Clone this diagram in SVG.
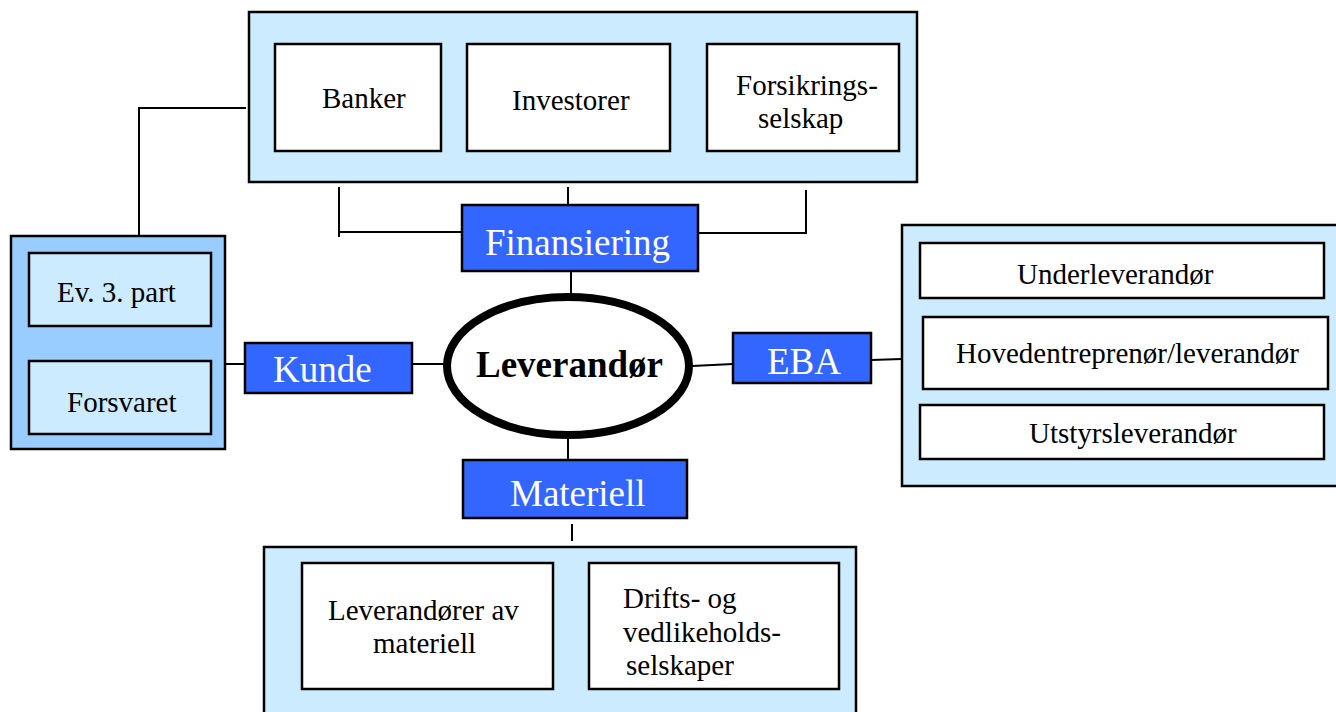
<svg xmlns="http://www.w3.org/2000/svg" width="1336" height="712" viewBox="0 0 1336 712">
<style>
  .cont { fill: #CCEBFF; stroke: #000; stroke-width: 2.5; }
  .contDark { fill: #99CCFF; stroke: #000; stroke-width: 2.5; }
  .box { fill: #FFFFFF; stroke: #000; stroke-width: 2.5; }
  .lbox { fill: #CCEBFF; stroke: #000; stroke-width: 2.5; }
  .blue { fill: #3366FF; stroke: #000; stroke-width: 2.5; }
  .t { font-family: "Liberation Serif", "Times New Roman", serif; font-size: 29px; fill: #000; }
  .w { font-family: "Liberation Serif", "Times New Roman", serif; font-size: 37px; fill: #FFFFFF; }
  .b { font-family: "Liberation Serif", "Times New Roman", serif; font-size: 37px; font-weight: bold; fill: #000; }
  .c { fill: none; stroke: #000; stroke-width: 2; }
</style>
<rect width="1336" height="712" fill="#FFFFFF"/>
<g id="connectors">
  <polyline class="c" points="139,236 139,108 246,108"/>
  <polyline class="c" points="339,237 339,187"/>
  <line class="c" x1="339" y1="232" x2="462" y2="232"/>
  <line class="c" x1="568" y1="187" x2="568" y2="205"/>
  <line class="c" x1="698" y1="233" x2="807" y2="233"/>
  <line class="c" x1="806" y1="190" x2="806" y2="233"/>
  <line class="c" x1="571" y1="270" x2="571" y2="298"/>
  <line class="c" x1="225" y1="364" x2="245" y2="364"/>
  <line class="c" x1="412" y1="364" x2="444" y2="364"/>
  <line class="c" x1="692" y1="366" x2="733" y2="364"/>
  <line class="c" x1="871" y1="360" x2="902" y2="359"/>
  <line class="c" x1="568" y1="437" x2="568" y2="460"/>
  <line class="c" x1="572" y1="524" x2="572" y2="541"/>
</g>
<g id="finans-group">
  <rect class="cont" x="249" y="12" width="668" height="170"/>
</g>
<g id="banker">
  <rect class="box" x="275" y="44" width="166" height="107"/>
  <text class="t" x="322" y="108">Banker</text>
</g>
<g id="investorer">
  <rect class="box" x="467" y="44" width="203" height="107"/>
  <text class="t" x="512" y="110">Investorer</text>
</g>
<g id="forsikring">
  <rect class="box" x="707" y="44" width="192" height="107"/>
  <text class="t" x="736" y="95">Forsikrings-</text>
  <text class="t" x="758" y="128">selskap</text>
</g>
<g id="kunde-group">
  <rect class="contDark" x="11" y="236" width="214" height="213"/>
</g>
<g id="ev3part">
  <rect class="lbox" x="29" y="253" width="182" height="73"/>
  <text class="t" x="57" y="302">Ev. 3. part</text>
</g>
<g id="forsvaret">
  <rect class="lbox" x="29" y="361" width="182" height="73"/>
  <text class="t" x="67" y="412">Forsvaret</text>
</g>
<g id="kunde">
  <rect class="blue" x="245" y="343" width="167" height="50"/>
  <text class="w" x="273" y="382">Kunde</text>
</g>
<g id="finansiering">
  <rect class="blue" x="462" y="205" width="236" height="66"/>
  <text class="w" x="485" y="255">Finansiering</text>
</g>
<g id="leverandor">
  <ellipse cx="568" cy="366" rx="121" ry="69" fill="#FFFFFF" stroke="#000" stroke-width="8"/>
  <text class="b" x="476" y="377">Leverandør</text>
</g>
<g id="eba">
  <rect class="blue" x="733" y="333" width="138" height="50"/>
  <text class="w" x="767" y="374">EBA</text>
</g>
<g id="materiell">
  <rect class="blue" x="463" y="460" width="224" height="58"/>
  <text class="w" x="510" y="506">Materiell</text>
</g>
<g id="eba-group">
  <rect class="cont" x="902" y="225" width="440" height="261"/>
</g>
<g id="underleverandor">
  <rect class="box" x="920" y="243" width="404" height="55"/>
  <text class="t" x="1017" y="284">Underleverandør</text>
</g>
<g id="hovedentreprenor">
  <rect class="box" x="923" y="317" width="405" height="72"/>
  <text class="t" x="956" y="363">Hovedentreprenør/leverandør</text>
</g>
<g id="utstyrsleverandor">
  <rect class="box" x="920" y="405" width="404" height="54"/>
  <text class="t" x="1029" y="443">Utstyrsleverandør</text>
</g>
<g id="materiell-group">
  <rect class="cont" x="264" y="547" width="592" height="180"/>
</g>
<g id="leverandorer-materiell">
  <rect class="box" x="302" y="563" width="251" height="126"/>
  <text class="t" x="328" y="620">Leverandører av</text>
  <text class="t" x="373" y="653">materiell</text>
</g>
<g id="drift-vedlikehold">
  <rect class="box" x="589" y="563" width="250" height="126"/>
  <text class="t" x="623" y="608">Drifts- og</text>
  <text class="t" x="623" y="642">vedlikeholds-</text>
  <text class="t" x="626" y="675">selskaper</text>
</g>
</svg>
